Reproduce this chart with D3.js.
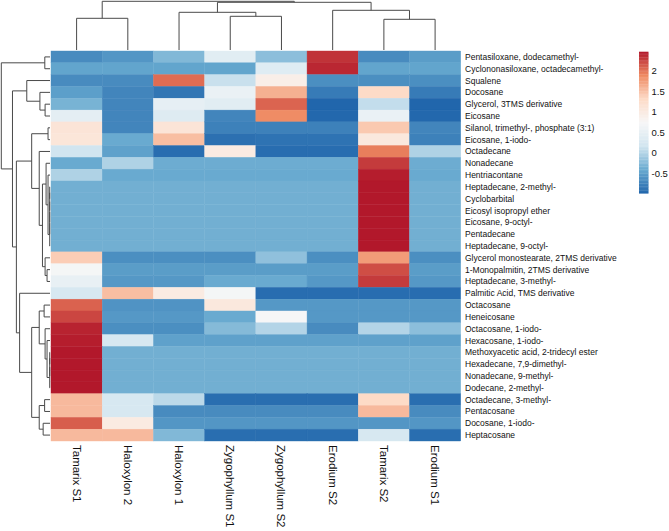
<!DOCTYPE html>
<html>
<head>
<meta charset="utf-8">
<script src="https://cdn.jsdelivr.net/npm/d3@7"></script>
<style>
  body { margin: 0; background: #fff; }
  text { font-family: "Liberation Sans", Arial, sans-serif; fill: #111; }
</style>
</head>
<body>
<div id="chart"></div>
<script>
// samples (columns, in dendrogram order)
var samples = ["Tamarix S1", "Haloxylon 2", "Haloxylon 1", "Zygophyllum S1",
  "Zygophyllum S2", "Erodium S2", "Tamarix S2", "Erodium S1"];

// compounds (rows, in dendrogram order)
var compounds = [
  "Pentasiloxane, dodecamethyl-", "Cyclononasiloxane, octadecamethyl-", "Squalene",
  "Docosane", "Glycerol, 3TMS derivative", "Eicosane", "Silanol, trimethyl-, phosphate (3:1)",
  "Eicosane, 1-iodo-", "Octadecane", "Nonadecane", "Hentriacontane", "Heptadecane, 2-methyl-",
  "Cyclobarbital", "Eicosyl isopropyl ether", "Eicosane, 9-octyl-", "Pentadecane",
  "Heptadecane, 9-octyl-", "Glycerol monostearate, 2TMS derivative",
  "1-Monopalmitin, 2TMS derivative", "Heptadecane, 3-methyl-", "Palmitic Acid, TMS derivative",
  "Octacosane", "Heneicosane", "Octacosane, 1-iodo-", "Hexacosane, 1-iodo-",
  "Methoxyacetic acid, 2-tridecyl ester", "Hexadecane, 7,9-dimethyl-", "Nonadecane, 9-methyl-",
  "Dodecane, 2-methyl-", "Octadecane, 3-methyl-", "Pentacosane", "Docosane, 1-iodo-", "Heptacosane"
];

// row-scaled values, one array per compound, columns in the order of samples
var values = [
  [-0.67, -0.58, -0.27, 0.41, -0.21, 2.34, -0.67, -0.52],
  [-0.45, -0.45, -0.45, -0.45, 0.38, 2.40, -0.45, -0.45],
  [-0.67, -0.67, 2.05, 0.12, 0.92, -0.64, -0.64, -0.64],
  [-0.50, -0.72, -0.85, 0.55, 1.63, -0.81, 1.32, -0.81],
  [-0.32, -0.72, 0.48, 0.41, 2.09, -0.99, 0.09, -0.99],
  [0.45, -0.72, 0.36, -0.72, 1.88, -0.97, 0.55, -0.97],
  [1.13, -0.72, 1.13, -0.76, -0.76, -0.76, 1.45, -0.72],
  [1.10, -0.40, 1.53, -0.90, -0.88, -0.88, 1.05, -0.76],
  [0.17, -0.48, -0.93, 0.99, -0.93, -0.93, 1.96, -0.02],
  [-0.40, -0.02, -0.38, -0.38, -0.38, -0.38, 2.30, -0.38],
  [-0.02, -0.40, -0.40, -0.40, -0.40, -0.40, 2.45, -0.40],
  [-0.354, -0.354, -0.354, -0.354, -0.354, -0.354, 2.475, -0.354],
  [-0.354, -0.354, -0.354, -0.354, -0.354, -0.354, 2.475, -0.354],
  [-0.354, -0.354, -0.354, -0.354, -0.354, -0.354, 2.475, -0.354],
  [-0.354, -0.354, -0.354, -0.354, -0.354, -0.354, 2.475, -0.354],
  [-0.354, -0.354, -0.354, -0.354, -0.354, -0.354, 2.475, -0.354],
  [-0.354, -0.354, -0.354, -0.354, -0.354, -0.354, 2.475, -0.354],
  [1.42, -0.64, -0.64, -0.64, -0.19, -0.64, 1.77, -0.64],
  [0.70, -0.52, -0.52, -0.52, -0.52, -0.52, 2.20, -0.52],
  [0.51, -0.56, -0.56, -0.40, -0.40, -0.56, 2.30, -0.56],
  [0.26, 1.53, 0.99, 0.70, -0.93, -0.93, -0.93, -0.93],
  [2.10, -0.60, -0.60, 1.05, -0.56, -0.56, -0.56, -0.56],
  [2.24, -0.56, -0.56, -0.40, 0.72, -0.56, -0.56, -0.56],
  [2.42, -0.64, -0.64, -0.25, 0.00, -0.67, 0.00, -0.21],
  [2.45, 0.26, -0.48, -0.48, -0.48, -0.48, -0.48, -0.48],
  [2.475, -0.354, -0.354, -0.354, -0.354, -0.354, -0.354, -0.354],
  [2.475, -0.354, -0.354, -0.354, -0.354, -0.354, -0.354, -0.354],
  [2.475, -0.354, -0.354, -0.354, -0.354, -0.354, -0.354, -0.354],
  [2.475, -0.354, -0.354, -0.354, -0.354, -0.354, -0.354, -0.354],
  [1.56, 0.26, 0.05, -0.92, -0.92, -0.92, 1.32, -0.92],
  [1.56, 0.26, -0.67, -0.67, -0.67, -0.67, 1.56, -0.67],
  [2.12, 0.99, -0.58, -0.58, -0.58, -0.58, -0.58, -0.58],
  [1.56, 1.56, -0.27, -0.92, -0.92, -0.92, 0.26, -0.92]
];

// column clustering (hclust style: negative = leaf, positive = earlier merge)
var colMerge = [[-7, -8], [-4, -5], [-1, -2], [-3, 2], [-6, 1], [4, 5], [3, 6]];
var colHeight = [30.7, 33.7, 31.7, 37.7, 39.7, 47.7, 48.7];

// row clustering
var rowMerge = [
  [-12, -13], [1, -14], [2, -15], [3, -16], [4, -17],
  [-26, -27], [6, -28], [7, -29],
  [-11, 5], [-10, 9], [-19, -20], [-18, 11], [10, 12], [-9, 13], [-7, -8], [15, 14],
  [-25, 8], [-24, 17], [-22, -23], [19, 18], [-30, -31], [-32, -33], [21, 22], [20, 23],
  [-21, 24], [16, 25], [-5, -6], [-4, 27], [-3, 28], [29, 26], [-1, -2], [31, 30]
];
var rowHeight = [
  0.3, 0.3, 0.3, 0.3, 0.3,
  0.3, 0.3, 0.3,
  2, 4, 3, 5, 7.7, 11, 2, 18.7,
  3, 5, 6, 11, 5.5, 7, 11, 18.7,
  31, 34.3, 5, 10.3, 23.7, 38.3, 5.3, 49.7
];

var legendTicks = [2, 1.5, 1, 0.5, 0, -0.5];
var palette = ["#2166ac", "#67a9cf", "#d1e5f0", "#f7f7f7", "#fddbc7", "#ef8a62", "#b2182b"];

var svgWidth = 669;
var svgHeight = 531;

var svg = d3.select("#chart")
    .append("svg")
    .attr("width", svgWidth)
    .attr("height", svgHeight);

// heatmap scales
var x = d3.scaleBand().domain(samples).range([51, 460.7]);
var y = d3.scaleBand().domain(compounds).range([51, 441]);

var ext = d3.extent(values.flat());
var color = d3.scaleLinear()
    .domain(palette.map((c, i) => ext[0] + i * (ext[1] - ext[0]) / (palette.length - 1)))
    .range(palette);

// dendrogram helper: returns one path per merge
function dendroPaths(merge, heights, leafPos, hScale, horizontal) {
  var pos = [], hgt = [];
  var paths = [];
  function info(k) {
    if (k < 0) return [leafPos[-k - 1], 0];
    return [pos[k - 1], hgt[k - 1]];
  }
  merge.forEach((m, i) => {
    var a = info(m[0]), b = info(m[1]);
    var h = heights[i];
    pos[i] = (a[0] + b[0]) / 2;
    hgt[i] = h;
    if (horizontal) {
      paths.push(`M${a[0]},${hScale(a[1])}V${hScale(h)}H${b[0]}V${hScale(b[1])}`);
    } else {
      paths.push(`M${hScale(a[1])},${a[0]}H${hScale(h)}V${b[0]}H${hScale(b[1])}`);
    }
  });
  return paths;
}

// column dendrogram
var colH = d3.scaleLinear().domain([0, d3.max(colHeight)]).range([50, 1.3]);
var colLeaves = samples.map(s => x(s) + x.bandwidth() / 2);
svg.append("g")
  .selectAll("path")
  .data(dendroPaths(colMerge, colHeight, colLeaves, colH, true))
  .enter()
  .append("path")
  .attr("d", d => d)
  .attr("fill", "none")
  .attr("stroke", "#4a4a4a")
  .attr("stroke-width", 1);

// row dendrogram
var rowH = d3.scaleLinear().domain([0, d3.max(rowHeight)]).range([50, 1.3]);
var rowLeaves = compounds.map(c => y(c) + y.bandwidth() / 2);
svg.append("g")
  .selectAll("path")
  .data(dendroPaths(rowMerge, rowHeight, rowLeaves, rowH, false))
  .enter()
  .append("path")
  .attr("d", d => d)
  .attr("fill", "none")
  .attr("stroke", "#4a4a4a")
  .attr("stroke-width", 1);

// cells
var cells = [];
values.forEach((row, i) => row.forEach((v, j) => cells.push({ r: compounds[i], c: samples[j], v: v })));

svg.append("g")
  .selectAll("rect")
  .data(cells)
  .enter()
  .append("rect")
  .attr("x", d => x(d.c))
  .attr("y", d => y(d.r))
  .attr("width", x.bandwidth())
  .attr("height", y.bandwidth())
  .attr("fill", d => color(d.v))
  .attr("stroke", d => color(d.v))
  .attr("stroke-width", 0.4);

// row labels
svg.append("g")
  .selectAll("text")
  .data(compounds)
  .enter()
  .append("text")
  .attr("x", 465)
  .attr("y", d => y(d) + y.bandwidth() / 2)
  .attr("dy", "0.35em")
  .attr("font-size", "8.5px")
  .text(d => d);

// column labels (rotated)
svg.append("g")
  .selectAll("text")
  .data(samples)
  .enter()
  .append("text")
  .attr("transform", d => `translate(${x(d) + x.bandwidth() / 2}, 445) rotate(90)`)
  .attr("dy", "0.35em")
  .attr("font-size", "11.5px")
  .text(d => d);

// legend
var legY = d3.scaleLinear().domain(ext).range([193.3, 51.7]);
var steps = d3.range(100).map(i => ext[0] + (i + 0.5) * (ext[1] - ext[0]) / 100);
var stepH = (legY(ext[0]) - legY(ext[1])) / 100;
var legend = svg.append("g");
legend.selectAll("rect")
  .data(steps)
  .enter()
  .append("rect")
  .attr("x", 639)
  .attr("y", d => legY(d) - stepH / 2)
  .attr("width", 9.5)
  .attr("height", stepH + 0.3)
  .attr("fill", d => color(d));

legend.selectAll("text")
  .data(legendTicks)
  .enter()
  .append("text")
  .attr("x", 651.5)
  .attr("y", d => legY(d))
  .attr("dy", "0.35em")
  .attr("font-size", "9.5px")
  .text(d => d);
</script>
</body>
</html>
